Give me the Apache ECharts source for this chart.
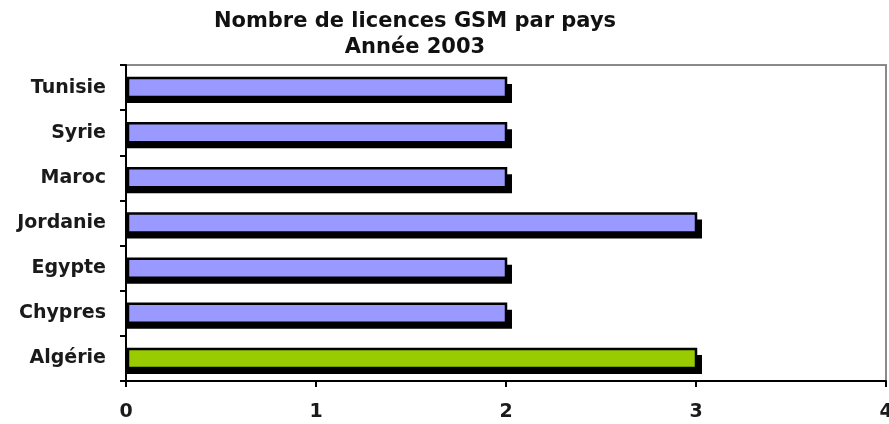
<!DOCTYPE html>
<html>
<head>
<meta charset="utf-8">
<script src="https://cdn.jsdelivr.net/npm/echarts@6/dist/echarts.min.js"></script>
<style>
  html, body { margin: 0; padding: 0; background: #fff; }
  #main { width: 889px; height: 424px; }
</style>
</head>
<body>
<div id="main"></div>
<script>
// data
const pays = ['Algérie', 'Chypres', 'Egypte', 'Jordanie', 'Maroc', 'Syrie', 'Tunisie'];
const licences = [3, 2, 2, 3, 2, 2, 2];
const xTicks = [0, 1, 2, 3, 4];

const font = '"DejaVu Sans", Arial, sans-serif';
const barH = 19;      // bar thickness incl. border
const shadowOff = 6;  // drop shadow offset

function renderBar(params, api) {
    const cat = api.value(1);
    const end = api.coord([api.value(0), cat]);
    const start = api.coord([0, cat]);
    const y = end[1] - barH / 2;
    const w = end[0] - start[0];
    const fill = pays[cat] === 'Algérie' ? '#99cc00' : '#9999ff';
    return {
        type: 'group',
        children: [{
            type: 'rect',
            shape: { x: start[0] + 1, y: y + shadowOff, width: w - 1 + shadowOff, height: barH },
            style: { fill: '#000' }
        }, {
            type: 'rect',
            shape: { x: start[0] + 2, y: y, width: w - 2, height: barH },
            style: { fill: fill, stroke: '#000', lineWidth: 2.5 }
        }]
    };
}

const myChart = echarts.init(document.getElementById('main'));
myChart.setOption({
    animation: false,
    backgroundColor: '#fff',
    title: {
        text: 'Nombre de licences GSM par pays\nAnnée 2003',
        left: 410,
        top: 4,
        textAlign: 'center',
        textStyle: {
            fontFamily: font,
            fontSize: 21,
            fontWeight: 'bold',
            color: '#111',
            lineHeight: 26
        }
    },
    grid: {
        left: 126,
        right: 3,
        top: 65,
        bottom: 43,
        show: true,
        borderColor: '#8a8a8a',
        borderWidth: 2,
        containLabel: false,
        outerBoundsMode: 'none'
    },
    xAxis: {
        type: 'value',
        min: xTicks[0],
        max: xTicks[xTicks.length - 1],
        interval: 1,
        splitLine: { show: false },
        axisLine: { show: true, lineStyle: { color: '#000', width: 2 } },
        axisTick: { show: true, length: 6, lineStyle: { color: '#000', width: 2 } },
        axisLabel: {
            margin: 22,
            fontFamily: font,
            fontSize: 19,
            fontWeight: 'bold',
            color: '#1a1a1a'
        }
    },
    yAxis: {
        type: 'category',
        data: pays,
        axisLine: { show: true, lineStyle: { color: '#000', width: 2 } },
        axisTick: { show: true, length: 6, lineStyle: { color: '#000', width: 2 } },
        axisLabel: {
            margin: 20,
            fontFamily: font,
            fontSize: 19,
            fontWeight: 'bold',
            color: '#1a1a1a'
        }
    },
    series: [{
        type: 'custom',
        renderItem: renderBar,
        encode: { x: 0, y: 1 },
        data: licences.map(function (v, i) { return [v, i]; }),
        z: 1
    }]
});
</script>
</body>
</html>
